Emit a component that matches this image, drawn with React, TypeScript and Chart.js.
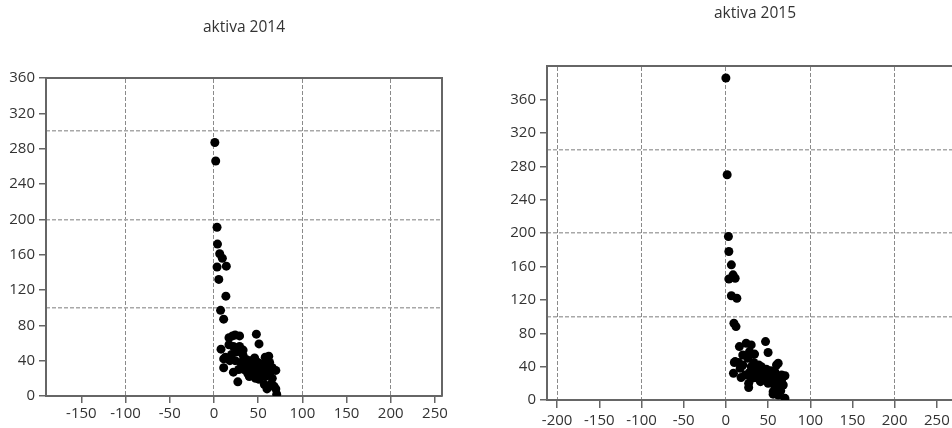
import React, { useEffect, useRef } from 'react';
import { Chart, registerables } from 'chart.js';

Chart.register(...registerables);

const FONT = "'Open Sans', sans-serif";

// ---------- aktiva 2014 ----------
const title2014 = 'aktiva 2014';
const x2014 = [
  1, 2, 3.5, 4, 6.5, 9.5, 3.5, 14, 5.5, 13.5, 7.5, 11,
  8, 11, 11, 17, 21, 24, 29, 48, 51,
  17, 22, 29, 33, 20, 26, 13, 33, 37, 18, 24, 42, 46, 58, 62, 63, 30,
  34, 38, 42, 45, 49, 52, 55, 57, 60, 66, 70, 22, 27, 28, 40, 47, 51,
  54, 58, 62, 66, 65, 57, 60, 68, 70, 71, 53, 36, 44, 50, 40, 64,
];
const y2014 = [
  287, 266, 191, 172, 161, 156, 146, 147, 132, 113, 97, 87,
  53, 42, 32, 66, 68, 69, 68, 70, 59,
  58, 56, 56, 52, 47, 50, 44, 46, 41, 40, 40, 40, 43, 44, 45, 38, 38,
  30, 26, 31, 26, 29, 33, 32, 37, 30, 32, 29, 27, 16, 30, 22, 20, 19,
  24, 22, 25, 20, 14, 13, 8, 11, 8, 2, 27, 35, 35, 38, 30, 28,
];
const xRange2014 = [-190, 258];
const yRange2014 = [0, 360];
const xTicks2014 = [-150, -100, -50, 0, 50, 100, 150, 200, 250];
const yTicks2014 = [0, 40, 80, 120, 160, 200, 240, 280, 320, 360];
const xGrid2014 = [-100, 0, 100, 200];
const yGrid2014 = [100, 200, 300];

// ---------- aktiva 2015 ----------
const title2015 = 'aktiva 2015';
const x2015 = [
  0, 1.5, 3, 3.5, 6.5, 3.5, 8.5, 11, 6.5, 13, 9.5, 12,
  47, 50, 16, 24, 30, 20, 11, 10, 26, 30, 9, 42, 60, 62, 58, 66, 70,
  23, 27, 27, 38, 46, 52, 58, 56, 56, 68, 65, 70, 35, 17, 38, 50, 20,
  33, 36, 44, 48, 41, 54, 60, 63, 66, 45, 31, 18, 53, 57, 28, 62, 15,
  39, 34, 28,
];
const y2015 = [
  386, 270, 196, 178, 162, 145, 150, 146, 125, 122, 92, 88,
  70, 57, 64, 68, 66, 54, 46, 45, 50, 40, 32, 40, 42, 44, 34, 30, 29,
  30, 20, 15, 26, 26, 30, 16, 10, 7, 18, 11, 2, 32, 38, 38, 20, 42,
  45, 35, 33, 37, 22, 24, 25, 20, 24, 30, 26, 27, 35, 28, 33, 6, 45,
  42, 55, 58,
];
const xRange2015 = [-212, 281];
const yRange2015 = [0, 400];
const xTicks2015 = [-200, -150, -100, -50, 0, 50, 100, 150, 200, 250];
const yTicks2015 = [0, 40, 80, 120, 160, 200, 240, 280, 320, 360];
const xGrid2015 = [-200, -100, 0, 100, 200];
const yGrid2015 = [100, 200, 300];

type PanelProps = {
  title: string;
  xs: number[];
  ys: number[];
  xRange: number[];
  yRange: number[];
  xTicks: number[];
  yTicks: number[];
  xGrid: number[];
  yGrid: number[];
  width: number;
  height: number;
  left: number;
  yAxisWidth: number;
  xAxisHeight: number;
  padRight: number;
  titleTop: number;
  titleBottom: number;
  xTickLen: number;
  xTickPad: number;
};

function ScatterPanel(p: PanelProps) {
  const ref = useRef<HTMLCanvasElement>(null);
  useEffect(() => {
    if (!ref.current) return;
    const fix = (vals: number[]) => (s: any) => {
      s.ticks = vals.map((v) => ({ value: v }));
    };
    const tickFont = { family: FONT, size: 15 };
    const chart = new Chart(ref.current, {
      type: 'scatter',
      data: {
        datasets: [
          {
            data: p.xs.map((x, i) => ({ x, y: p.ys[i] })),
            xAxisID: 'x',
            yAxisID: 'y',
            backgroundColor: '#000',
            borderColor: '#000',
            borderWidth: 0,
            pointRadius: 4.5,
            pointHoverRadius: 4.5,
          },
        ],
      },
      options: {
        responsive: false,
        animation: false,
        devicePixelRatio: 1,
        layout: { padding: { left: 0, right: p.padRight, top: 0, bottom: 0 } },
        plugins: {
          legend: { display: false },
          tooltip: { enabled: false },
          title: {
            display: true,
            text: p.title,
            fullSize: false,
            color: '#333',
            font: { family: FONT, size: 15.5, weight: 'normal', lineHeight: 1.2 },
            padding: { top: p.titleTop, bottom: p.titleBottom },
          },
        },
        scales: {
          x: {
            type: 'linear',
            position: 'bottom',
            min: p.xRange[0],
            max: p.xRange[1],
            afterBuildTicks: fix(p.xTicks),
            afterFit: (s: any) => {
              s.height = p.xAxisHeight;
            },
            ticks: {
              autoSkip: false,
              maxRotation: 0,
              font: tickFont,
              color: '#333',
              padding: p.xTickPad,
            },
            grid: {
              drawOnChartArea: false,
              drawTicks: true,
              tickLength: p.xTickLen,
              color: '#666',
              lineWidth: 1.5,
            },
            border: { display: true, color: '#666', width: 2 },
          },
          y: {
            type: 'linear',
            position: 'left',
            min: p.yRange[0],
            max: p.yRange[1],
            afterBuildTicks: fix(p.yTicks),
            afterFit: (s: any) => {
              s.width = p.yAxisWidth;
            },
            ticks: {
              autoSkip: false,
              font: tickFont,
              color: '#333',
              padding: 4,
            },
            grid: {
              drawOnChartArea: false,
              drawTicks: true,
              tickLength: 7,
              color: '#666',
              lineWidth: 1.5,
            },
            border: { display: true, color: '#666', width: 2 },
          },
          xg: {
            type: 'linear',
            position: 'top',
            min: p.xRange[0],
            max: p.xRange[1],
            afterBuildTicks: fix(p.xGrid),
            ticks: { display: false },
            grid: { drawTicks: false, color: '#8a8a8a', lineWidth: 1 },
            border: { display: true, color: '#666', width: 2, dash: [4, 2] },
          },
          yg: {
            type: 'linear',
            position: 'right',
            min: p.yRange[0],
            max: p.yRange[1],
            afterBuildTicks: fix(p.yGrid),
            ticks: { display: false },
            grid: { drawTicks: false, color: '#a8a8a8', lineWidth: 1.6 },
            border: { display: true, color: '#666', width: 2, dash: [4, 2] },
          },
        },
      } as any,
    });
    return () => chart.destroy();
  }, []);
  return (
    <div style={{ position: 'absolute', left: p.left, top: 0, width: p.width, height: p.height }}>
      <canvas ref={ref} width={p.width} height={p.height} style={{ display: 'block' }} />
    </div>
  );
}

export default function App() {
  return (
    <div
      style={{
        position: 'fixed',
        left: 0,
        top: 0,
        width: 952,
        height: 428,
        overflow: 'hidden',
        background: '#fff',
      }}
    >
      <ScatterPanel
        title={title2014}
        xs={x2014}
        ys={y2014}
        xRange={xRange2014}
        yRange={yRange2014}
        xTicks={xTicks2014}
        yTicks={yTicks2014}
        xGrid={xGrid2014}
        yGrid={yGrid2014}
        width={476}
        height={428}
        left={0}
        yAxisWidth={46}
        xAxisHeight={32}
        padRight={34}
        titleTop={18.7}
        titleBottom={40.7}
        xTickLen={7}
        xTickPad={2}
      />
      <ScatterPanel
        title={title2015}
        xs={x2015}
        ys={y2015}
        xRange={xRange2015}
        yRange={yRange2015}
        xTicks={xTicks2015}
        yTicks={yTicks2015}
        xGrid={xGrid2015}
        yGrid={yGrid2015}
        width={500}
        height={428}
        left={476}
        yAxisWidth={71}
        xAxisHeight={28}
        padRight={13}
        titleTop={4.7}
        titleBottom={43}
        xTickLen={8}
        xTickPad={4}
      />
    </div>
  );
}
